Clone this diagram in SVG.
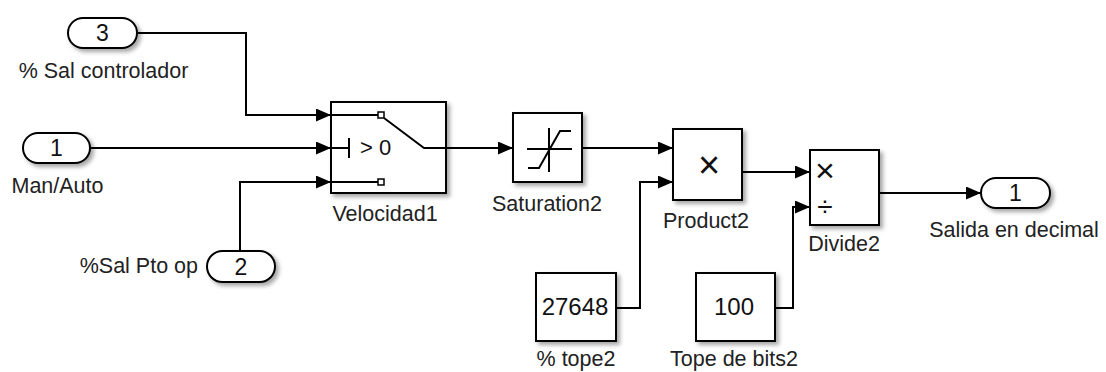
<svg xmlns="http://www.w3.org/2000/svg" width="1106" height="372" viewBox="0 0 1106 372">
<style>
.blk{fill:#fff;stroke:#000;stroke-width:2;filter:url(#sh)}
.port{fill:#fff;stroke:#000;stroke-width:2;filter:url(#sh)}
.ln{fill:none;stroke:#000;stroke-width:2}
.wire{fill:none;stroke:#000;stroke-width:2;marker-end:url(#arr)}
.lbl{font-family:"Liberation Sans",Arial,sans-serif;font-size:21.5px;fill:#222;text-anchor:middle}
.num{font-family:"Liberation Sans",Arial,sans-serif;font-size:23px;fill:#111;text-anchor:middle}
.big{font-family:"Liberation Sans",Arial,sans-serif;font-size:24px;fill:#111;text-anchor:middle}
.sym{font-family:"Liberation Sans",Arial,sans-serif;fill:#111;text-anchor:middle}
</style>
<defs>
<filter id="sh" x="-20%" y="-20%" width="150%" height="160%">
<feDropShadow dx="3" dy="3" stdDeviation="2" flood-color="#000" flood-opacity="0.35"/>
</filter>
<marker id="arr" markerUnits="userSpaceOnUse" markerWidth="16" markerHeight="14" refX="15" refY="6.5" orient="auto">
<path d="M0,0 L15,6.5 L0,13 z" fill="#000"/>
</marker>
</defs>
<rect width="1106" height="372" fill="#fff"/>

<g id="connectors">
<path class="wire" d="M137,33 H246 V115 H331"/>
<path class="wire" d="M90,148 H331"/>
<path class="wire" d="M240,251 V182 H331"/>
<path class="wire" d="M446,148 H513"/>
<path class="wire" d="M582,148 H673"/>
<path class="wire" d="M616,308 H640 V182 H673"/>
<path class="wire" d="M742,172 H810"/>
<path class="wire" d="M775,308 H793 V207 H810"/>
<path class="wire" d="M879,193 H981"/>
</g>

<g id="in3">
<rect class="port" x="68" y="18" width="69" height="30" rx="15"/>
<text class="num" x="102.5" y="41">3</text>
<text class="lbl" x="103.5" y="78">% Sal controlador</text>
</g>
<g id="in1">
<rect class="port" x="23" y="133" width="67" height="30" rx="15"/>
<text class="num" x="56.5" y="156">1</text>
<text class="lbl" x="57.5" y="193">Man/Auto</text>
</g>
<g id="in2">
<rect class="port" x="207" y="251" width="68" height="31" rx="15.5"/>
<text class="num" x="241" y="275">2</text>
<text class="lbl" x="198" y="273" style="text-anchor:end">%Sal Pto op</text>
</g>

<g id="velocidad1">
<rect class="blk" x="331" y="102" width="115" height="91"/>
<path class="ln" d="M331,115 H378 M384,118 L424,148 H446 M331,148 H349 M349,138 V158 M331,182 H378"/>
<rect x="378" y="112" width="6" height="6" fill="#fff" stroke="#000" stroke-width="1.5"/>
<rect x="378" y="179" width="6" height="6" fill="#fff" stroke="#000" stroke-width="1.5"/>
<text x="360" y="155" style="font-family:'Liberation Sans',Arial,sans-serif;font-size:22px;fill:#111">&gt; 0</text>
<text class="lbl" x="385" y="221">Velocidad1</text>
</g>

<g id="saturation2">
<rect class="blk" x="513" y="113" width="69" height="69"/>
<path class="ln" d="M549,128 V172 M527,149 H572"/>
<path class="ln" d="M528,168 H539 L560,131 H571"/>
<text class="lbl" x="547" y="211">Saturation2</text>
</g>

<g id="product2">
<rect class="blk" x="673" y="129" width="69" height="71"/>
<text class="sym" x="709" y="177.5" style="font-size:38px">×</text>
<text class="lbl" x="706" y="228">Product2</text>
</g>

<g id="tope2">
<rect class="blk" x="536" y="273" width="80" height="68"/>
<text class="big" x="575" y="315">27648</text>
<text class="lbl" x="576" y="366">% tope2</text>
</g>

<g id="topebits2">
<rect class="blk" x="696" y="273" width="79" height="68"/>
<text class="big" x="734" y="315">100</text>
<text class="lbl" x="734" y="366">Tope de bits2</text>
</g>

<g id="divide2">
<rect class="blk" x="810" y="150" width="69" height="75"/>
<text class="sym" x="825" y="182" style="font-size:34px">×</text>
<text class="sym" x="825" y="216" style="font-size:28px">÷</text>
<text class="lbl" x="844" y="251">Divide2</text>
</g>

<g id="out1">
<rect class="port" x="981" y="178" width="69" height="30" rx="15"/>
<text class="num" x="1015.5" y="201">1</text>
<text class="lbl" x="1014" y="237">Salida en decimal</text>
</g>
</svg>
